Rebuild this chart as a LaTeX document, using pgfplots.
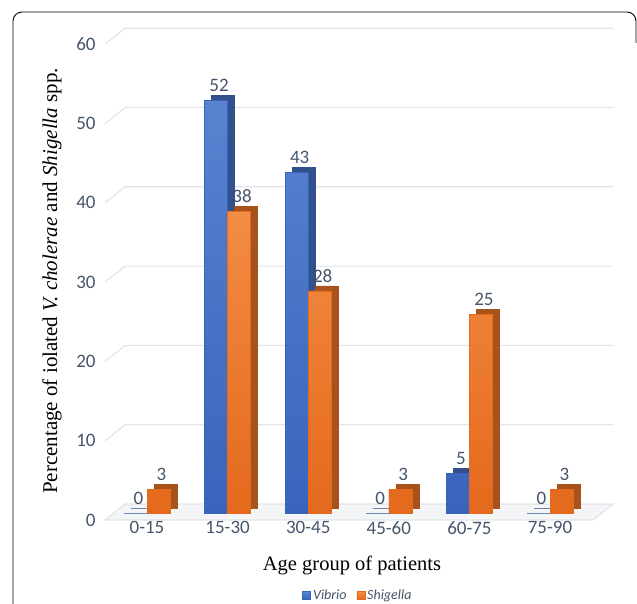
\documentclass[border=0pt]{standalone}
\usepackage{pgfplots}
\pgfplotsset{compat=1.18}
\usepackage{fontspec}
\setmainfont{Liberation Serif}
\newfontfamily\calibri{Carlito}
\definecolor{tickc}{HTML}{44546A}
\definecolor{gridc}{HTML}{E3E5EA}
\definecolor{bluetop}{HTML}{5783D0}
\definecolor{bluebot}{HTML}{3864BC}
\definecolor{bluedark}{HTML}{32508C}
\definecolor{orgtop}{HTML}{F38C44}
\definecolor{orgbot}{HTML}{E4691C}
\definecolor{orgdark}{HTML}{A9531C}
\pgfplotstableread{
x vib shi
0 0 3
1 52 38
2 43 28
3 0 3
4 5 25
5 0 3
}\data
\begin{document}
\begin{tikzpicture}
\draw[line width=0.9pt, rounded corners=9pt] (13pt,-5pt) -- (13pt,591pt) -- (636pt,591pt) -- (636pt,560pt);
\begin{axis}[
  at={(147pt,90pt)}, anchor=origin,
  scale only axis, width=494.9pt, height=475.8pt,
  xmin=-0.52, xmax=5.62, ymin=0, ymax=60,
  ytick={0,10,...,60},
  xtick={0,...,5},
  xticklabels={0-15,15-30,30-45,45-60,60-75,75-90},
  axis line style={draw=none},
  major tick length=0pt,
  clip=false,
  /pgf/number format/assume math mode=true,
  ticklabel style={font=\calibri\fontsize{19}{19}\selectfont, text=tickc},
  yticklabel style={yshift=-7pt, xshift=-6pt},
  xticklabel style={yshift=-5pt},
  ybar, bar width=23pt,
  legend style={at={(0.511,-0.174)}, anchor=center, draw=none, fill=none,
    legend columns=2, font=\calibri\itshape\fontsize{14}{14}\selectfont, text=tickc,
    /tikz/every even column/.append style={column sep=8pt}},
  legend image code/.code={\fill[#1] (0pt,-4pt) rectangle (8pt,4pt);},
]
% floor and back-wall gridlines
\fill[gridc!40] ([yshift=-7pt]axis cs:-0.52,0) -- ([xshift=20pt,yshift=9pt]axis cs:-0.52,0) -- ([xshift=13pt,yshift=9pt]axis cs:5.62,0) -- ([xshift=-7pt,yshift=-7pt]axis cs:5.62,0) -- cycle;
\draw[gridc, line width=1.2pt] ([yshift=-7pt]axis cs:-0.52,0) -- ([xshift=20pt,yshift=9pt]axis cs:-0.52,0) -- ([xshift=13pt,yshift=9pt]axis cs:5.62,0) -- ([xshift=-7pt,yshift=-7pt]axis cs:5.62,0) -- cycle;
\pgfplotsinvokeforeach{10,20,30,40,50,60}{
  \draw[gridc, line width=1.2pt] ([yshift=-7pt]axis cs:-0.52,#1) -- ([xshift=20pt,yshift=9pt]axis cs:-0.52,#1) -- ([xshift=13pt,yshift=9pt]axis cs:5.62,#1);
}
% Vibrio depth
\addplot[forget plot, fill=bluedark, draw=bluedark, line width=0.6pt, bar shift=-11.5pt, xshift=7pt, yshift=5pt] table[x=x,y=vib]{\data};
\addplot[fill=bluebot, top color=bluetop, bottom color=bluebot, draw=bluebot, line width=0.6pt, bar shift=-11.5pt,
  nodes near coords, every node near coord/.append style={font=\calibri\fontsize{19}{19}\selectfont, text=tickc, yshift=5pt, xshift=3pt}] table[x=x,y=vib]{\data};
\addlegendentry{Vibrio}
% Shigella depth
\addplot[forget plot, fill=orgdark, draw=orgdark, line width=0.6pt, bar shift=11.5pt, xshift=7pt, yshift=5pt] table[x=x,y=shi]{\data};
\addplot[fill=orgbot, top color=orgtop, bottom color=orgbot, draw=orgbot, line width=0.6pt, bar shift=11.5pt,
  nodes near coords, every node near coord/.append style={font=\calibri\fontsize{19}{19}\selectfont, text=tickc, yshift=5pt, xshift=3pt}] table[x=x,y=shi]{\data};
\addlegendentry{Shigella}
\end{axis}
\node[font=\fontsize{20.5}{20.5}\selectfont] at (352pt,38pt) {Age group of patients};
\node[font=\fontsize{21}{21}\selectfont, rotate=90] at (52pt,322pt) {Percentage of iolated \textit{V. cholerae} and \textit{Shigella} spp.};
\pgfresetboundingbox
\path[use as bounding box] (0pt,0pt) rectangle (637pt,603pt);
\end{tikzpicture}
\end{document}
